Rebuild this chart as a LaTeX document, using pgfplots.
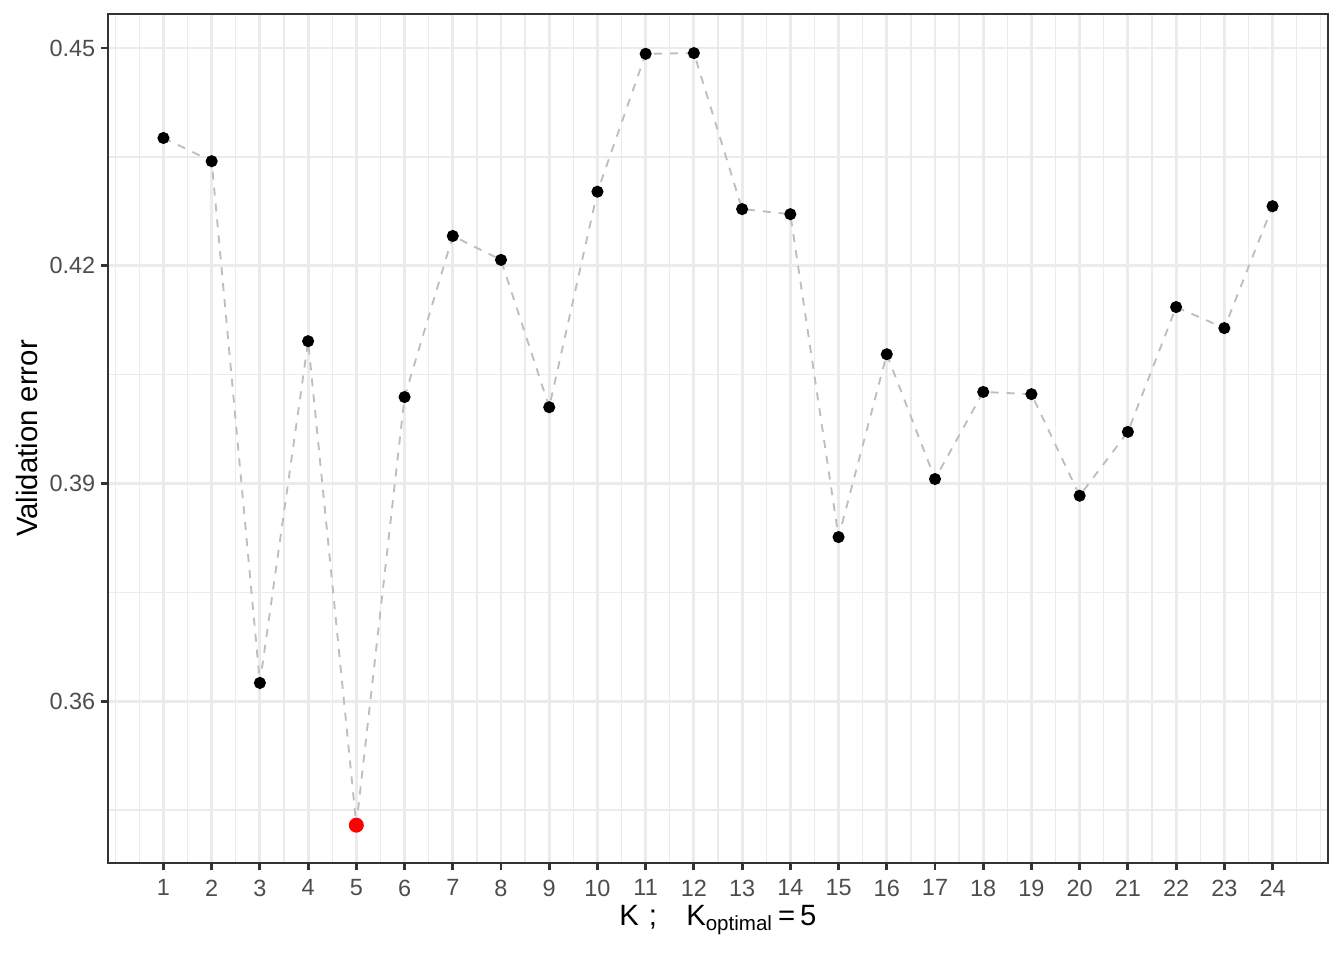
\documentclass[border=0pt]{standalone}
\usepackage{pgfplots}
\pgfplotsset{compat=1.18}
\usepackage{fontspec}
\setmainfont{Liberation Sans}

\definecolor{grey20}{HTML}{333333}
\definecolor{grey30}{HTML}{4D4D4D}
\definecolor{grey92}{HTML}{EBEBEB}
\definecolor{lgrey}{HTML}{BEBEBE}

\begin{document}
\begin{tikzpicture}
  % page size 504pt x 360pt, panel corner at origin
  \useasboundingbox (-40.5pt,-36.4pt) rectangle (463.5pt,323.65pt);

  \begin{axis}[
    scale only axis,
    width=457.5pt,
    height=318.4pt,
    xmin=-0.15, xmax=25.15,
    ymin=0.33768, ymax=0.45469,
    xtick={1,...,24},
    ytick={0.36,0.39,0.42,0.45},
    minor xtick={0,0.5,...,25},
    minor ytick={0.345,0.375,0.405,0.435},
    xtick pos=left, ytick pos=left,
    tick align=outside,
    major tick length=2.75pt,
    minor tick length=0pt,
    tick style={draw=grey20, line width=1.07pt},
    axis line style={draw=grey20, line width=1.07pt},
    grid=both,
    major grid style={draw=grey92, line width=1.07pt},
    minor grid style={draw=grey92, line width=0.53pt},
    /pgf/number format/assume math mode=true,
    yticklabel style={/pgf/number format/fixed, /pgf/number format/precision=2,
      /pgf/number format/fixed zerofill, xshift=1.5pt},
    ticklabel style={font=\fontsize{8.8}{10}\selectfont, text=grey30},
    xlabel={K\,\,;\quad K\textsubscript{optimal}\,=\,5},
    ylabel={Validation error},
    label style={font=\fontsize{11}{13}\selectfont, text=black},
    xlabel style={at={(axis description cs:0.5,-0.0672)}, anchor=center},
    ylabel style={at={(axis description cs:-0.0664,0.5)}, anchor=center},
  ]

    \addplot[lgrey, line width=0.7pt, dash pattern=on 3pt off 3pt,
      mark=*, mark size=1.9pt,
      mark options={solid, fill=black, draw=black}]
      coordinates {
        (1,0.4376) (2,0.4344) (3,0.3625) (4,0.4096) (5,0.3429)
        (6,0.4019) (7,0.4241) (8,0.4208) (9,0.4005) (10,0.4302)
        (11,0.4492) (12,0.4493) (13,0.4278) (14,0.4271) (15,0.3826)
        (16,0.4078) (17,0.3906) (18,0.4026) (19,0.4023) (20,0.3883)
        (21,0.3971) (22,0.4143) (23,0.4114) (24,0.4282)
      };

    \addplot[only marks, mark=*, mark size=2.6pt, red, fill=red]
      coordinates {(5,0.3429)};
  \end{axis}
\end{tikzpicture}
\end{document}
